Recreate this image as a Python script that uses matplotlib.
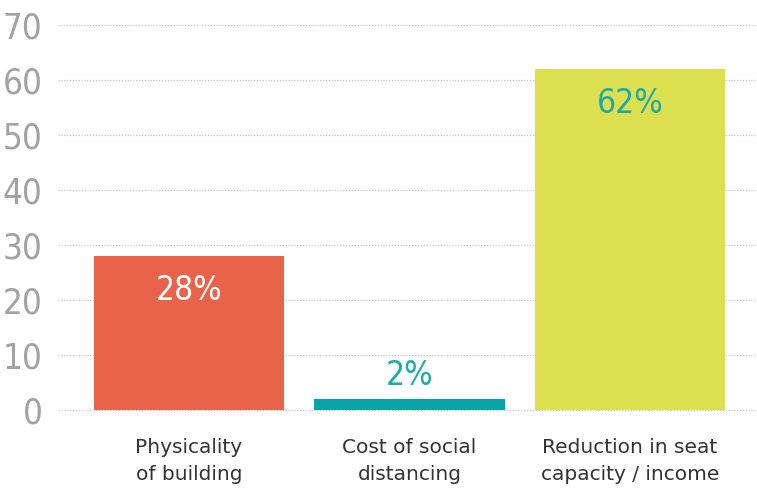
import matplotlib
matplotlib.use("Agg")
import matplotlib.pyplot as plt

categories = ["Physicality\nof building", "Cost of social\ndistancing", "Reduction in seat\ncapacity / income"]
values = [28, 2, 62]
value_labels = ["28%", "2%", "62%"]
bar_colors = ["#E8634A", "#0AA3A8", "#DCDF4E"]
label_colors = ["white", "#1AA9AD", "#1AA9AD"]
yticks = [0, 10, 20, 30, 40, 50, 60, 70]

fig = plt.figure(figsize=(7.57, 4.88), dpi=100)
ax = fig.add_axes([58/757, 76/488, 699/757, 387/488])

x = range(len(values))
ax.bar(x, values, width=0.862, color=bar_colors, zorder=3)

for xi, v, lab, c in zip(x, values, value_labels, label_colors):
    if v > 10:
        ty = v - 6.2
    else:
        ty = v + 4.2
    ax.text(xi, ty, lab, ha="center", va="center", color=c,
            fontsize=24, fontweight=200, fontstretch="condensed")

ax.set_xlim(-0.594, 2.576)
ax.set_ylim(-0.35, 70)
ax.set_yticks(yticks)
ax.set_yticklabels([str(t) for t in yticks], fontsize=25, color="#a2a2a2",
                   fontweight=200, fontstretch="condensed")
ax.set_xticks(list(x))
ax.set_xticklabels(categories, fontsize=14.5, color="#333333", linespacing=1.5)
ax.tick_params(axis="y", length=0, pad=11)
ax.tick_params(axis="x", length=0, pad=19)
ax.yaxis.grid(True, color="#c4c4c4", linestyle=(0, (1, 1.3)), linewidth=0.9, zorder=0)
for s in ax.spines.values():
    s.set_visible(False)

fig.savefig("out.png", dpi=100)
